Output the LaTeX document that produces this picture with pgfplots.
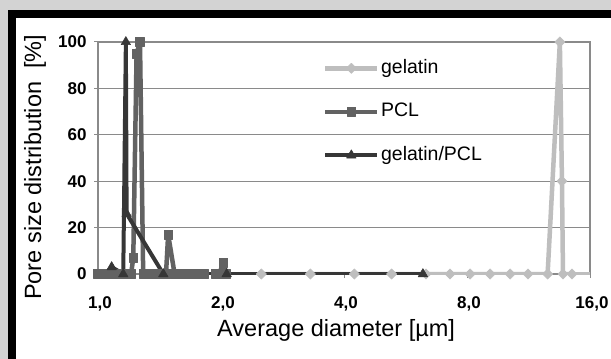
\documentclass[border=0pt]{standalone}
\usepackage{pgfplots}
\pgfplotsset{compat=1.18}
\usepackage{fontspec}
\setmainfont{Liberation Sans}
\definecolor{bggray}{HTML}{D3D3D3}
\definecolor{gridgray}{HTML}{8A8A8A}
\definecolor{gelc}{HTML}{BEBEBE}
\definecolor{pclc}{HTML}{626262}
\definecolor{gpc}{HTML}{363636}
\begin{document}
\begin{tikzpicture}
\useasboundingbox (0pt,0pt) rectangle (611pt,359pt);
\fill[bggray] (0pt,0pt) rectangle (611pt,359pt);
\fill[black] (7.5pt,0pt) rectangle (611pt,349pt);
\fill[white] (15.5pt,0pt) rectangle (611pt,341pt);
\begin{axis}[
  at={(98pt,85pt)}, anchor=south west,
  scale only axis, width=492pt, height=232pt,
  xmode=log, log basis x=2,
  xmin=1, xmax=16, ymin=0, ymax=100,
  xtick={1,2,4,8,16}, xticklabels={{1,0},{2,0},{4,0},{8,0},{16,0}},
  ytick={0,20,40,60,80,100},
  /pgf/number format/assume math mode=true,
  xtick pos=bottom, ytick pos=left,
  ymajorgrids, grid style={gridgray, line width=1.1pt},
  axis line style={gridgray, line width=1.1pt},
  tick style={gridgray, line width=1pt},
  tick align=outside, major tick length=4pt,
  xticklabel style={font=\fontsize{17}{19}\selectfont\bfseries, yshift=-15pt, xshift=2pt},
  yticklabel style={font=\fontsize{17}{19}\selectfont\bfseries, xshift=-4pt},
  xlabel={Average diameter [µm]},
  ylabel={Pore size distribution\ \ [\%]},
  xlabel style={font=\fontsize{23.5}{26}\selectfont, at={(axis description cs:0.484,-0.244)}, anchor=center},
  ylabel style={font=\fontsize{23.5}{26}\selectfont, at={(axis description cs:-0.128,0.46)}, anchor=center, rotate=0},
  unbounded coords=jump,
  legend cell align=left,
  legend image code/.code={\draw[mark repeat=2,mark phase=2] plot coordinates {(0pt,0pt) (26pt,0pt) (52pt,0pt)};},
  legend style={at={(0.451,0.935)}, anchor=north west, draw=none, fill=none,
    font=\fontsize{19.5}{22}\selectfont, row sep=25.5pt,
    nodes={inner xsep=1.5pt, inner ysep=0pt, text height=14pt, text depth=4pt}},
]
\addplot[gelc, line width=4.5pt, line join=round, mark=square*, mark size=3.6pt, mark options={rotate=45, fill=gelc, line width=0.5pt}]
 coordinates {(2.51,0)(3.31,0)(4.24,0)(5.23,0)(6.35,0)(7.27,0)(8.14,0)(9.11,0)(10.2,0)(11.28,0)(12.6,0)(13.5,100)(13.66,40)(13.74,0)(14.46,0)};
\addlegendentry{gelatin}
\addplot[pclc, line width=4.5pt, line join=round, mark=square*, mark size=4.4pt, mark options={fill=pclc, line width=0.5pt}]
 coordinates {(1.00,0)(1.03,0)(1.06,0)(1.09,0)(1.12,0)(1.15,0)(1.18,0)(1.205,0)(1.22,7)(1.243,95)(1.267,100)(1.29,0)(1.32,0)(1.35,0)(1.38,0)(1.41,0)(1.44,0)(1.467,0)(1.485,17)(1.54,0)(1.57,0)(1.60,0)(1.64,0)(1.68,0)(1.72,0)(1.76,0)(1.79,0)(1.817,0)(1.88,nan)(1.94,0)(1.98,0)(2.026,5)(2.06,0)};
\addlegendentry{PCL}
\addplot[gpc, line width=4pt, line join=round, mark=triangle*, mark size=5.5pt, mark options={fill=gpc, line width=0.5pt}]
 coordinates {(1.08,3)(1.153,0)(1.17,100)(1.175,26)(1.445,0)(2.065,0)(6.24,0)};
\addlegendentry{gelatin/PCL}
\addplot[gelc, line width=4.5pt, no marks, forget plot] coordinates {(14.46,0)(16,0)};
\end{axis}
\end{tikzpicture}
\end{document}
